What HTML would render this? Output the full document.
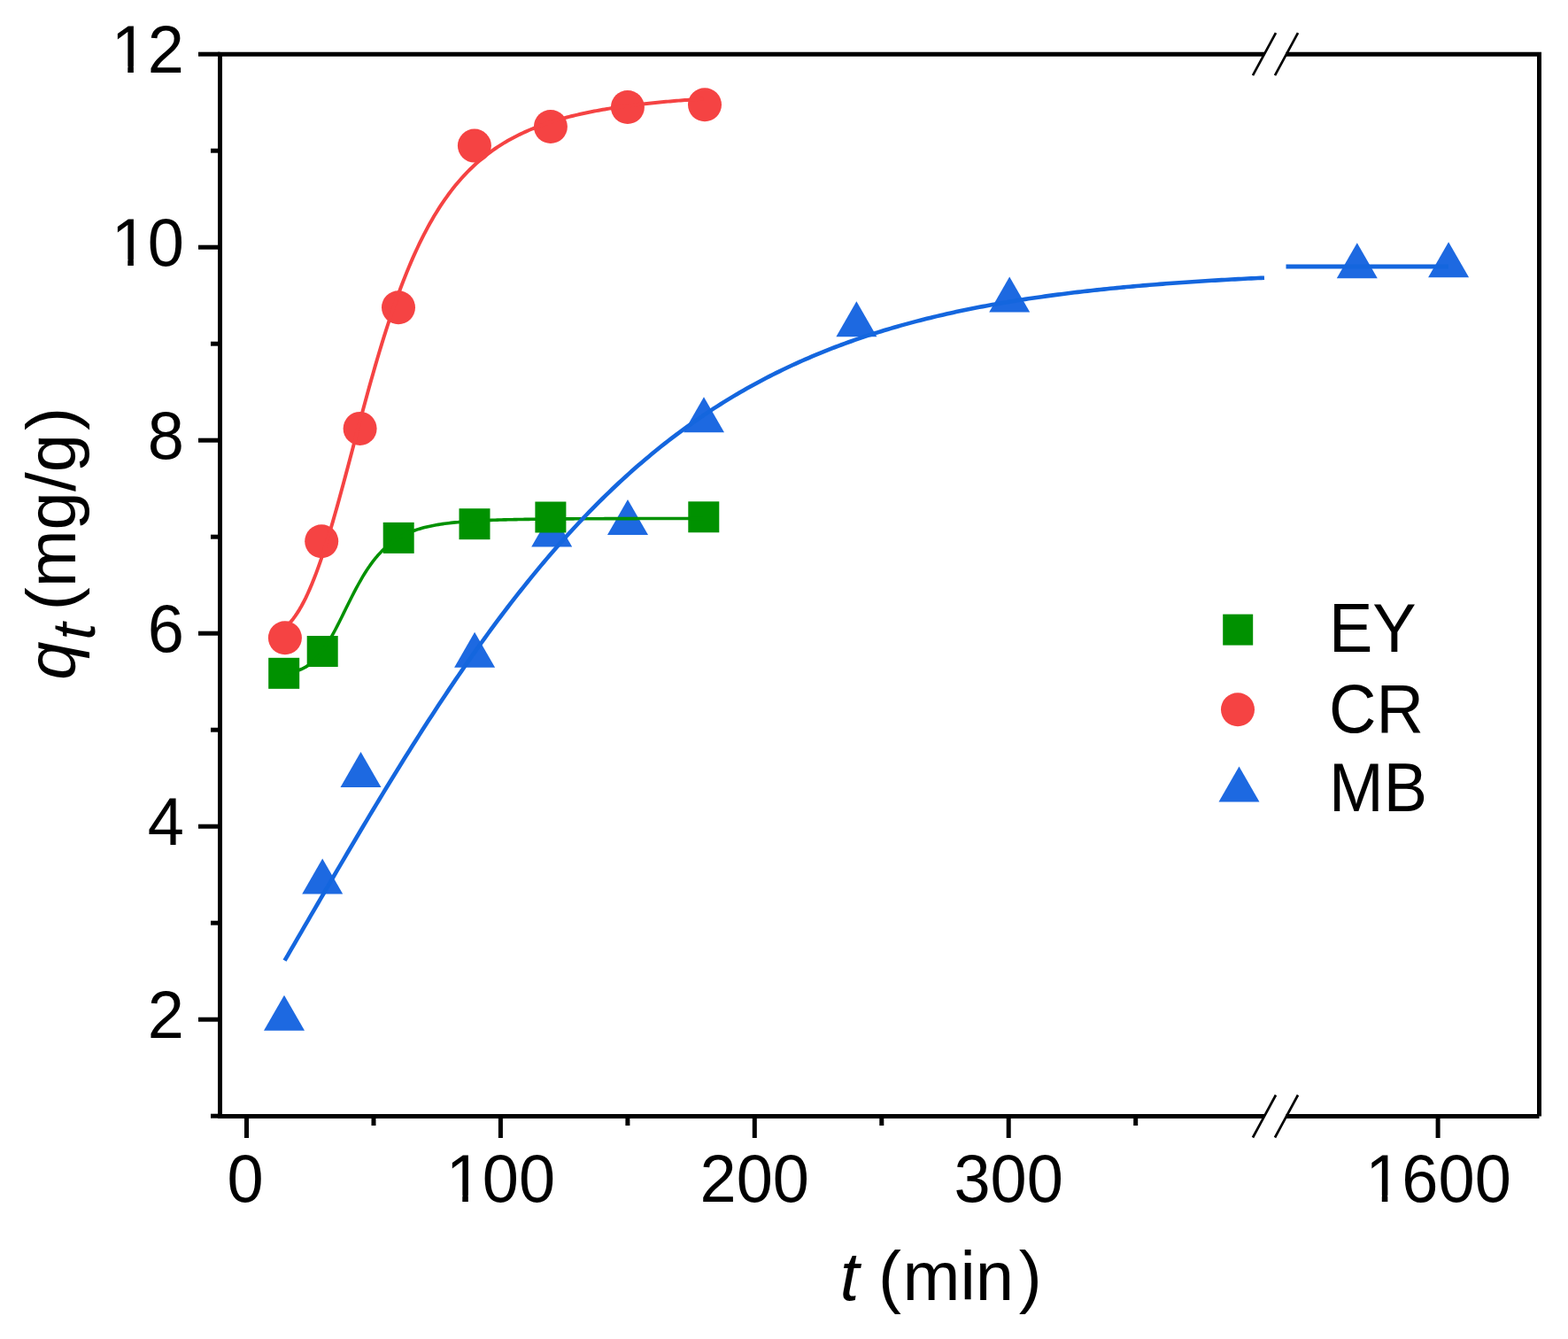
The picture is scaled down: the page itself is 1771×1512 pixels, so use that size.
<!DOCTYPE html>
<html><head><meta charset="utf-8"><title>Adsorption kinetics: q_t vs t</title>
<style>html,body{margin:0;padding:0;background:#fff;} svg{display:block;}</style></head>
<body>
<svg width="1771" height="1512" viewBox="0 0 1771 1512">
<rect width="1771" height="1512" fill="#fff"/>
<g fill="#1D69E1"><path d="M321.0,1123.8 L344.0,1163.8 L298.0,1163.8 Z"/><path d="M364.2,969.5 L387.2,1009.5 L341.2,1009.5 Z"/><path d="M407.5,849.0 L430.5,889.0 L384.5,889.0 Z"/><path d="M536.1,713.7 L559.1,753.7 L513.1,753.7 Z"/><path d="M623.2,577.4 L646.2,617.4 L600.2,617.4 Z"/><path d="M709.0,564.1 L732.0,604.1 L686.0,604.1 Z"/><path d="M795.0,448.2 L818.0,488.2 L772.0,488.2 Z"/><path d="M967.4,340.2 L990.4,380.2 L944.4,380.2 Z"/><path d="M1140.2,312.4 L1163.2,352.4 L1117.2,352.4 Z"/><path d="M1532.8,274.2 L1555.8,314.2 L1509.8,314.2 Z"/><path d="M1636.1,273.2 L1659.1,313.2 L1613.1,313.2 Z"/></g>
<g fill="#009100"><rect x="303.2" y="742.8" width="35" height="35"/><rect x="346.7" y="718.0" width="35" height="35"/><rect x="432.7" y="589.9" width="35" height="35"/><rect x="518.5" y="574.2" width="35" height="35"/><rect x="604.4" y="566.5" width="35" height="35"/><rect x="777.3" y="566.3" width="35" height="35"/></g>
<g fill="#F54343"><circle cx="321.9" cy="720.3" r="19"/><circle cx="363.2" cy="611.3" r="19"/><circle cx="406.6" cy="483.9" r="19"/><circle cx="450" cy="347.2" r="19"/><circle cx="535.9" cy="164.6" r="19"/><circle cx="621.9" cy="143" r="19"/><circle cx="708.9" cy="121" r="19"/><circle cx="796" cy="118.3" r="19"/></g>
<path d="M321.54,759.99 L323.91,759.74 L326.29,759.43 L328.67,759.04 L331.05,758.57 L333.43,757.99 L335.81,757.31 L338.19,756.50 L340.57,755.54 L342.94,754.42 L345.32,753.13 L347.70,751.65 L350.08,749.96 L352.46,748.05 L354.84,745.91 L357.22,743.53 L359.60,740.90 L361.97,738.01 L364.35,734.88 L366.73,731.49 L369.11,727.86 L371.49,724.01 L373.87,719.94 L376.25,715.68 L378.63,711.25 L381.01,706.67 L383.38,701.99 L385.76,697.22 L388.14,692.41 L390.52,687.57 L392.90,682.75 L395.28,677.97 L397.66,673.25 L400.04,668.63 L402.41,664.12 L404.79,659.75 L407.17,655.52 L409.55,651.45 L411.93,647.54 L414.31,643.81 L416.69,640.26 L419.07,636.88 L421.45,633.69 L423.82,630.67 L426.20,627.82 L428.58,625.14 L430.96,622.62 L433.34,620.25 L435.72,618.04 L438.10,615.96 L440.48,614.02 L442.85,612.20 L445.23,610.51 L447.61,608.93 L449.99,607.45 L452.37,606.07 L454.75,604.78 L457.13,603.59 L459.51,602.47 L461.89,601.42 L464.26,600.45 L466.64,599.54 L469.02,598.70 L471.40,597.90 L473.78,597.17 L476.16,596.48 L478.54,595.83 L480.92,595.23 L483.29,594.67 L485.67,594.14 L488.05,593.65 L490.43,593.19 L492.81,592.76 L495.19,592.36 L497.57,591.98 L499.95,591.62 L502.33,591.29 L504.70,590.98 L507.08,590.69 L509.46,590.41 L511.84,590.15 L514.22,589.91 L516.60,589.68 L518.98,589.46 L521.36,589.26 L523.73,589.07 L526.11,588.89 L528.49,588.72 L530.87,588.56 L533.25,588.41 L535.63,588.27 L538.01,588.13 L540.39,588.00 L542.77,587.88 L545.14,587.77 L547.52,587.66 L549.90,587.56 L552.28,587.46 L554.66,587.37 L557.04,587.29 L559.42,587.20 L561.80,587.13 L564.17,587.05 L566.55,586.98 L568.93,586.92 L571.31,586.85 L573.69,586.79 L576.07,586.73 L578.45,586.68 L580.83,586.63 L583.21,586.58 L585.58,586.53 L587.96,586.49 L590.34,586.44 L592.72,586.40 L595.10,586.36 L597.48,586.33 L599.86,586.29 L602.24,586.26 L604.61,586.23 L606.99,586.20 L609.37,586.17 L611.75,586.14 L614.13,586.11 L616.51,586.09 L618.89,586.06 L621.27,586.04 L623.65,586.01 L626.02,585.99 L628.40,585.97 L630.78,585.95 L633.16,585.93 L635.54,585.92 L637.92,585.90 L640.30,585.88 L642.68,585.87 L645.05,585.85 L647.43,585.84 L649.81,585.82 L652.19,585.81 L654.57,585.79 L656.95,585.78 L659.33,585.77 L661.71,585.76 L664.08,585.75 L666.46,585.74 L668.84,585.73 L671.22,585.72 L673.60,585.71 L675.98,585.70 L678.36,585.69 L680.74,585.68 L683.12,585.67 L685.49,585.66 L687.87,585.66 L690.25,585.65 L692.63,585.64 L695.01,585.64 L697.39,585.63 L699.77,585.62 L702.15,585.62 L704.52,585.61 L706.90,585.60 L709.28,585.60 L711.66,585.59 L714.04,585.59 L716.42,585.58 L718.80,585.58 L721.18,585.57 L723.56,585.57 L725.93,585.57 L728.31,585.56 L730.69,585.56 L733.07,585.55 L735.45,585.55 L737.83,585.55 L740.21,585.54 L742.59,585.54 L744.96,585.54 L747.34,585.53 L749.72,585.53 L752.10,585.53 L754.48,585.52 L756.86,585.52 L759.24,585.52 L761.62,585.51 L764.00,585.51 L766.37,585.51 L768.75,585.51 L771.13,585.50 L773.51,585.50 L775.89,585.50 L778.27,585.50 L780.65,585.50 L783.03,585.49 L785.40,585.49 L787.78,585.49 L790.16,585.49 L792.54,585.49 L794.92,585.48" fill="none" stroke="#009100" stroke-width="3.6" stroke-linejoin="round"/>
<path d="M321.54,709.14 L323.91,706.97 L326.29,704.55 L328.67,701.87 L331.05,698.91 L333.43,695.68 L335.81,692.15 L338.19,688.33 L340.57,684.21 L342.94,679.79 L345.32,675.06 L347.70,670.02 L350.08,664.68 L352.46,659.04 L354.84,653.10 L357.22,646.87 L359.60,640.36 L361.97,633.58 L364.35,626.54 L366.73,619.25 L369.11,611.72 L371.49,603.97 L373.87,596.02 L376.25,587.88 L378.63,579.57 L381.01,571.11 L383.38,562.52 L385.76,553.81 L388.14,545.01 L390.52,536.13 L392.90,527.19 L395.28,518.21 L397.66,509.21 L400.04,500.21 L402.41,491.21 L404.79,482.25 L407.17,473.33 L409.55,464.46 L411.93,455.67 L414.31,446.96 L416.69,438.34 L419.07,429.83 L421.45,421.43 L423.82,413.16 L426.20,405.02 L428.58,397.02 L430.96,389.16 L433.34,381.45 L435.72,373.90 L438.10,366.50 L440.48,359.26 L442.85,352.19 L445.23,345.27 L447.61,338.52 L449.99,331.94 L452.37,325.52 L454.75,319.27 L457.13,313.18 L459.51,307.25 L461.89,301.48 L464.26,295.87 L466.64,290.42 L469.02,285.12 L471.40,279.97 L473.78,274.97 L476.16,270.11 L478.54,265.40 L480.92,260.83 L483.29,256.39 L485.67,252.09 L488.05,247.91 L490.43,243.86 L492.81,239.94 L495.19,236.13 L497.57,232.44 L499.95,228.87 L502.33,225.40 L504.70,222.04 L507.08,218.78 L509.46,215.63 L511.84,212.57 L514.22,209.61 L516.60,206.74 L518.98,203.95 L521.36,201.25 L523.73,198.64 L526.11,196.11 L528.49,193.65 L530.87,191.27 L533.25,188.96 L535.63,186.72 L538.01,184.55 L540.39,182.45 L542.77,180.41 L545.14,178.43 L547.52,176.51 L549.90,174.65 L552.28,172.85 L554.66,171.10 L557.04,169.40 L559.42,167.75 L561.80,166.15 L564.17,164.60 L566.55,163.09 L568.93,161.63 L571.31,160.21 L573.69,158.83 L576.07,157.49 L578.45,156.19 L580.83,154.93 L583.21,153.70 L585.58,152.51 L587.96,151.35 L590.34,150.22 L592.72,149.13 L595.10,148.07 L597.48,147.03 L599.86,146.03 L602.24,145.05 L604.61,144.10 L606.99,143.17 L609.37,142.27 L611.75,141.40 L614.13,140.54 L616.51,139.71 L618.89,138.91 L621.27,138.12 L623.65,137.36 L626.02,136.61 L628.40,135.89 L630.78,135.18 L633.16,134.49 L635.54,133.82 L637.92,133.17 L640.30,132.53 L642.68,131.91 L645.05,131.30 L647.43,130.71 L649.81,130.14 L652.19,129.58 L654.57,129.03 L656.95,128.50 L659.33,127.98 L661.71,127.47 L664.08,126.98 L666.46,126.49 L668.84,126.02 L671.22,125.56 L673.60,125.11 L675.98,124.67 L678.36,124.25 L680.74,123.83 L683.12,123.42 L685.49,123.02 L687.87,122.63 L690.25,122.25 L692.63,121.88 L695.01,121.52 L697.39,121.16 L699.77,120.81 L702.15,120.48 L704.52,120.14 L706.90,119.82 L709.28,119.50 L711.66,119.19 L714.04,118.89 L716.42,118.59 L718.80,118.30 L721.18,118.02 L723.56,117.74 L725.93,117.47 L728.31,117.20 L730.69,116.94 L733.07,116.69 L735.45,116.44 L737.83,116.20 L740.21,115.96 L742.59,115.72 L744.96,115.49 L747.34,115.27 L749.72,115.05 L752.10,114.83 L754.48,114.62 L756.86,114.42 L759.24,114.21 L761.62,114.02 L764.00,113.82 L766.37,113.63 L768.75,113.45 L771.13,113.26 L773.51,113.08 L775.89,112.91 L778.27,112.73 L780.65,112.57 L783.03,112.40 L785.40,112.24 L787.78,112.08 L790.16,111.92 L792.54,111.77 L794.92,111.62" fill="none" stroke="#F54343" stroke-width="4.0" stroke-linejoin="round"/>
<path d="M321.54,1084.71 L325.24,1078.35 L328.94,1071.97 L332.64,1065.60 L336.34,1059.22 L340.04,1052.85 L343.74,1046.47 L347.44,1040.10 L351.14,1033.72 L354.84,1027.35 L358.54,1020.99 L362.24,1014.63 L365.94,1008.27 L369.64,1001.92 L373.34,995.58 L377.04,989.25 L380.74,982.93 L384.44,976.62 L388.14,970.31 L391.85,964.03 L395.55,957.75 L399.25,951.49 L402.95,945.24 L406.65,939.01 L410.35,932.79 L414.05,926.59 L417.75,920.41 L421.45,914.25 L425.15,908.10 L428.85,901.98 L432.55,895.88 L436.25,889.80 L439.95,883.74 L443.65,877.71 L447.35,871.70 L451.05,865.72 L454.75,859.76 L458.46,853.82 L462.16,847.92 L465.86,842.04 L469.56,836.19 L473.26,830.37 L476.96,824.58 L480.66,818.81 L484.36,813.08 L488.06,807.38 L491.76,801.72 L495.46,796.08 L499.16,790.48 L502.86,784.91 L506.56,779.37 L510.26,773.87 L513.96,768.40 L517.66,762.97 L521.36,757.58 L525.07,752.22 L528.77,746.89 L532.47,741.61 L536.17,736.36 L539.87,731.15 L543.57,725.98 L547.27,720.84 L550.97,715.74 L554.67,710.69 L558.37,705.67 L562.07,700.69 L565.77,695.75 L569.47,690.85 L573.17,685.99 L576.87,681.18 L580.57,676.40 L584.27,671.66 L587.97,666.96 L591.68,662.31 L595.38,657.69 L599.08,653.12 L602.78,648.59 L606.48,644.10 L610.18,639.65 L613.88,635.24 L617.58,630.88 L621.28,626.55 L624.98,622.27 L628.68,618.03 L632.38,613.83 L636.08,609.67 L639.78,605.55 L643.48,601.48 L647.18,597.45 L650.88,593.46 L654.58,589.51 L658.29,585.60 L661.99,581.73 L665.69,577.90 L669.39,574.12 L673.09,570.37 L676.79,566.67 L680.49,563.01 L684.19,559.38 L687.89,555.80 L691.59,552.26 L695.29,548.76 L698.99,545.29 L702.69,541.87 L706.39,538.49 L710.09,535.14 L713.79,531.84 L717.49,528.57 L721.19,525.34 L724.90,522.16 L728.60,519.00 L732.30,515.89 L736.00,512.82 L739.70,509.78 L743.40,506.78 L747.10,503.81 L750.80,500.89 L754.50,497.99 L758.20,495.14 L761.90,492.32 L765.60,489.54 L769.30,486.79 L773.00,484.08 L776.70,481.40 L780.40,478.76 L784.10,476.15 L787.80,473.57 L791.51,471.03 L795.21,468.52 L798.91,466.04 L802.61,463.60 L806.31,461.19 L810.01,458.81 L813.71,456.47 L817.41,454.15 L821.11,451.87 L824.81,449.61 L828.51,447.39 L832.21,445.20 L835.91,443.04 L839.61,440.90 L843.31,438.80 L847.01,436.73 L850.71,434.68 L854.41,432.67 L858.12,430.68 L861.82,428.72 L865.52,426.78 L869.22,424.88 L872.92,423.00 L876.62,421.15 L880.32,419.32 L884.02,417.52 L887.72,415.75 L891.42,414.00 L895.12,412.27 L898.82,410.57 L902.52,408.90 L906.22,407.25 L909.92,405.62 L913.62,404.02 L917.32,402.44 L921.02,400.89 L924.72,399.35 L928.43,397.84 L932.13,396.35 L935.83,394.89 L939.53,393.44 L943.23,392.02 L946.93,390.62 L950.63,389.24 L954.33,387.88 L958.03,386.53 L961.73,385.21 L965.43,383.91 L969.13,382.63 L972.83,381.37 L976.53,380.13 L980.23,378.91 L983.93,377.70 L987.63,376.51 L991.33,375.35 L995.04,374.19 L998.74,373.06 L1002.44,371.95 L1006.14,370.85 L1009.84,369.76 L1013.54,368.70 L1017.24,367.65 L1020.94,366.62 L1024.64,365.60 L1028.34,364.60 L1032.04,363.61 L1035.74,362.64 L1039.44,361.69 L1043.14,360.75 L1046.84,359.82 L1050.54,358.91 L1054.24,358.01 L1057.94,357.13 L1061.65,356.26 L1065.35,355.40 L1069.05,354.56 L1072.75,353.73 L1076.45,352.91 L1080.15,352.11 L1083.85,351.32 L1087.55,350.54 L1091.25,349.78 L1094.95,349.02 L1098.65,348.28 L1102.35,347.55 L1106.05,346.83 L1109.75,346.12 L1113.45,345.43 L1117.15,344.74 L1120.85,344.07 L1124.55,343.41 L1128.26,342.75 L1131.96,342.11 L1135.66,341.48 L1139.36,340.86 L1143.06,340.24 L1146.76,339.64 L1150.46,339.05 L1154.16,338.47 L1157.86,337.89 L1161.56,337.33 L1165.26,336.77 L1168.96,336.23 L1172.66,335.69 L1176.36,335.16 L1180.06,334.64 L1183.76,334.13 L1187.46,333.62 L1191.16,333.13 L1194.87,332.64 L1198.57,332.16 L1202.27,331.69 L1205.97,331.23 L1209.67,330.77 L1213.37,330.32 L1217.07,329.88 L1220.77,329.44 L1224.47,329.01 L1228.17,328.59 L1231.87,328.18 L1235.57,327.77 L1239.27,327.37 L1242.97,326.98 L1246.67,326.59 L1250.37,326.21 L1254.07,325.83 L1257.77,325.46 L1261.48,325.10 L1265.18,324.74 L1268.88,324.39 L1272.58,324.05 L1276.28,323.71 L1279.98,323.37 L1283.68,323.04 L1287.38,322.72 L1291.08,322.40 L1294.78,322.09 L1298.48,321.78 L1302.18,321.48 L1305.88,321.18 L1309.58,320.89 L1313.28,320.60 L1316.98,320.32 L1320.68,320.04 L1324.38,319.77 L1328.09,319.50 L1331.79,319.23 L1335.49,318.97 L1339.19,318.71 L1342.89,318.46 L1346.59,318.21 L1350.29,317.97 L1353.99,317.73 L1357.69,317.50 L1361.39,317.26 L1365.09,317.03 L1368.79,316.81 L1372.49,316.59 L1376.19,316.37 L1379.89,316.16 L1383.59,315.95 L1387.29,315.74 L1390.99,315.54 L1394.70,315.34 L1398.40,315.14 L1402.10,314.95 L1405.80,314.76 L1409.50,314.57 L1413.20,314.39 L1416.90,314.21 L1420.60,314.03 L1424.30,313.86 L1428.00,313.69" fill="none" stroke="#1466DE" stroke-width="4.6" stroke-linejoin="round"/>
<path d="M1452.5,301 L1636,301" fill="none" stroke="#1466DE" stroke-width="5"/>
<g stroke="#000" stroke-width="5" fill="none" stroke-linecap="butt">
<path d="M246.0,61.2 H1428 M1452.5,61.2 H1741.0"/>
<path d="M246.0,1260.5 H1428 M1452.5,1260.5 H1738.5"/>
<path d="M248.5,61.2 V1260.5"/>
<path d="M1738.5,61.2 V1260.5"/>
<path d="M238,1260.2 H248.5"/>
<path d="M224,1151.2 H248.5"/>
<path d="M238,1042.2 H248.5"/>
<path d="M224,933.2 H248.5"/>
<path d="M238,824.2 H248.5"/>
<path d="M224,715.2 H248.5"/>
<path d="M238,606.2 H248.5"/>
<path d="M224,497.2 H248.5"/>
<path d="M238,388.2 H248.5"/>
<path d="M224,279.2 H248.5"/>
<path d="M238,170.2 H248.5"/>
<path d="M224,61.2 H248.5"/>
<path d="M278.5,1260.5 V1285"/>
<path d="M422.0,1260.5 V1271"/>
<path d="M565.4,1260.5 V1285"/>
<path d="M708.9,1260.5 V1271"/>
<path d="M852.3,1260.5 V1285"/>
<path d="M995.8,1260.5 V1271"/>
<path d="M1139.2,1260.5 V1285"/>
<path d="M1282.7,1260.5 V1271"/>
<path d="M1624.1,1260.5 V1285"/>
</g>
<g stroke="#000" stroke-width="2.7" fill="none">
<path d="M1415,85.2 L1441,37.2 M1440,85.2 L1466,37.2"/>
<path d="M1415,1284.5 L1441,1236.5 M1440,1284.5 L1466,1236.5"/>
</g>
<g font-family="'Liberation Sans', Arial, sans-serif" font-size="74" fill="#000">
<g transform="translate(0,1172.5) scale(1,1.035) translate(0,-1172.5)"><text x="208.0" y="1172.5" text-anchor="end">2</text></g>
<g transform="translate(0,954.5) scale(1,1.035) translate(0,-954.5)"><text x="208.0" y="954.5" text-anchor="end">4</text></g>
<g transform="translate(0,736.5) scale(1,1.035) translate(0,-736.5)"><text x="208.0" y="736.5" text-anchor="end">6</text></g>
<g transform="translate(0,518.5) scale(1,1.035) translate(0,-518.5)"><text x="208.0" y="518.5" text-anchor="end">8</text></g>
<g transform="translate(0,300.5) scale(1,1.035) translate(0,-300.5)"><text x="208.0" y="300.5" text-anchor="end">10</text><rect x="130.33" y="293.0" width="13.97" height="9" fill="#fff"/><rect x="150.84" y="293.0" width="13.39" height="9" fill="#fff"/></g>
<g transform="translate(0,82.5) scale(1,1.035) translate(0,-82.5)"><text x="208.0" y="82.5" text-anchor="end">12</text><rect x="130.33" y="75.0" width="13.97" height="9" fill="#fff"/><rect x="150.84" y="75.0" width="13.39" height="9" fill="#fff"/></g>
<g transform="translate(0,1357.5) scale(1,1.035) translate(0,-1357.5)"><text x="277.0" y="1357.5" text-anchor="middle">0</text></g>
<g transform="translate(0,1357.5) scale(1,1.035) translate(0,-1357.5)"><text x="565.4" y="1357.5" text-anchor="middle">100</text><rect x="508.30" y="1350.0" width="13.97" height="9" fill="#fff"/><rect x="528.82" y="1350.0" width="13.39" height="9" fill="#fff"/></g>
<g transform="translate(0,1357.5) scale(1,1.035) translate(0,-1357.5)"><text x="852.3" y="1357.5" text-anchor="middle">200</text></g>
<g transform="translate(0,1357.5) scale(1,1.035) translate(0,-1357.5)"><text x="1139.2" y="1357.5" text-anchor="middle">300</text></g>
<g transform="translate(0,1357.5) scale(1,1.035) translate(0,-1357.5)"><text x="1624.5" y="1357.5" text-anchor="middle">1600</text><rect x="1546.83" y="1350.0" width="13.97" height="9" fill="#fff"/><rect x="1567.34" y="1350.0" width="13.39" height="9" fill="#fff"/></g>
</g>
<text x="948.7" y="1467.5" font-family="'Liberation Sans', Arial, sans-serif" font-size="78"><tspan font-style="italic">t</tspan> (<tspan dx="1.5">min</tspan><tspan dx="5.5">)</tspan></text>
<text transform="translate(84.8,614) rotate(-90)" x="-153.8" y="0" font-family="'Liberation Sans', Arial, sans-serif" font-size="78"><tspan font-style="italic">q</tspan><tspan font-style="italic" font-size="68" dx="2" dy="22">t</tspan><tspan dx="-7.5" dy="-22"> (mg/g</tspan><tspan dx="4">)</tspan></text>
<rect x="1381.2" y="693.6" width="34" height="35" fill="#009100"/>
<circle cx="1398" cy="801.2" r="19" fill="#F54343"/>
<path fill="#1D69E1" d="M1399.5,865.4 L1422.5,905.4 L1376.5,905.4 Z"/>
<g font-family="'Liberation Sans', Arial, sans-serif" font-size="74" fill="#000">
<g transform="translate(0,736.3) scale(1,1.055) translate(0,-736.3)"><text x="1501" y="736.3">EY</text></g>
<g transform="translate(0,826.7) scale(1,1.055) translate(0,-826.7)"><text x="1501" y="826.7">CR</text></g>
<g transform="translate(0,916.5) scale(1,1.055) translate(0,-916.5)"><text x="1501" y="916.5">MB</text></g>
</g>
</svg>
</body></html>
